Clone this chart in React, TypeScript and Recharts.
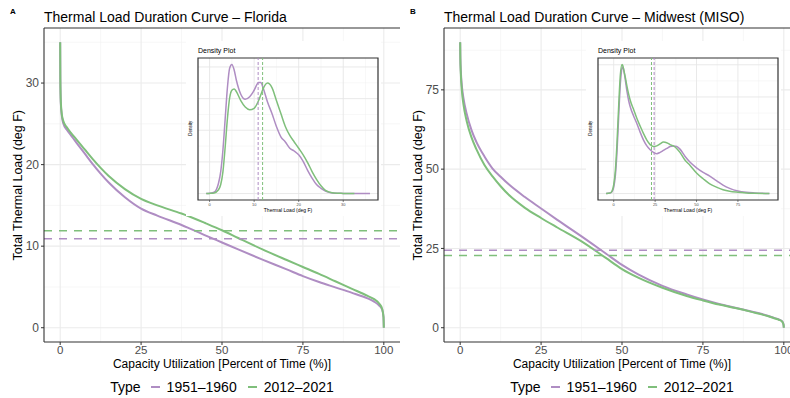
import React from 'react';
import {
  LineChart,
  Line,
  XAxis,
  YAxis,
  CartesianGrid,
  ReferenceLine,
  ReferenceArea,
} from 'recharts';

// percent of time (x of the duration curves)
const pctTime = [0, 0.05, 0.2, 0.5, 1, 2, 3.5, 5, 7.5, 10, 12.5, 15, 20, 25, 30, 37.5, 45, 50, 55, 62.5, 70, 75, 80, 85, 90, 95, 97, 98.5, 99.5, 99.9, 100];

// Florida thermal load (deg F)
const flOld = [35, 30.5, 27.5, 26.0, 25.0, 24.3, 23.5, 22.7, 21.4, 20.1, 18.9, 17.8, 16.0, 14.6, 13.75, 12.6, 11.3, 10.45, 9.6, 8.35, 7.15, 6.33, 5.6, 4.95, 4.3, 3.6, 3.2, 2.75, 2.2, 1.3, 0];
const flNew = [35, 30.5, 27.7, 26.2, 25.3, 24.6, 23.8, 23.1, 21.9, 20.7, 19.6, 18.6, 17.0, 15.8, 15.0, 14.0, 12.8, 11.95, 11.0, 9.6, 8.3, 7.45, 6.6, 5.7, 4.8, 3.9, 3.5, 3.0, 2.3, 1.3, 0];

// Midwest (MISO) thermal load (deg F)
const mwOld = [90, 85.5, 81, 76.5, 72.5, 67.5, 62.3, 58.6, 54.0, 50.2, 47.6, 45.2, 41.2, 37.6, 34.0, 28.8, 23.4, 19.8, 16.8, 13.2, 10.5, 8.9, 7.5, 6.3, 5.1, 3.8, 3.1, 2.6, 2.0, 1.0, 0];
const mwNew = [90, 85, 80, 75, 70.5, 65.2, 60.0, 56.3, 51.3, 47.7, 44.6, 41.9, 37.8, 34.6, 31.6, 27.2, 22.0, 18.5, 15.8, 12.6, 10.0, 8.6, 7.3, 6.2, 5.0, 3.7, 3.0, 2.5, 1.9, 1.0, 0];

// mean thermal load per period [1951-1960, 2012-2021]
const flMeans = [10.9, 11.9];
const mwMeans = [24.4, 22.8];

// density insets
const flDensX = [-0.75, 0, 1, 2, 2.5, 3, 3.5, 4, 4.5, 5, 5.5, 6, 7, 8, 9, 10, 11, 11.5, 12, 13, 14, 15, 16, 17, 18, 19, 20, 21, 22, 23, 24, 25, 26, 27, 28, 30, 32.5, 36];
const flDensOld = [0, 0.0002, 0.0008, 0.0065, 0.0139, 0.0277, 0.0473, 0.0669, 0.0792, 0.0816, 0.0783, 0.0718, 0.0628, 0.0596, 0.0612, 0.0653, 0.0702, 0.0702, 0.0669, 0.0579, 0.0506, 0.0424, 0.0359, 0.0326, 0.0286, 0.0269, 0.0245, 0.0204, 0.0147, 0.0098, 0.0057, 0.0033, 0.0016, 0.0007, 0.0002, 0.0001, 0, 0];
const flDensNew = [0, 0.0001, 0.0004, 0.0024, 0.0057, 0.0139, 0.0294, 0.0473, 0.0604, 0.0653, 0.0661, 0.0645, 0.0588, 0.0547, 0.053, 0.0539, 0.0588, 0.0625, 0.0661, 0.0698, 0.0669, 0.0588, 0.0506, 0.0424, 0.0367, 0.0326, 0.0286, 0.0245, 0.0196, 0.0139, 0.009, 0.0049, 0.002, 0.0008, 0.0003, 0.0001, 0, null];

const mwDensX = [-4.6, -2, -1, 0, 1, 2, 3, 4, 5, 5.5, 6, 7, 8, 9, 10, 12, 14, 16, 18, 20, 22, 24, 26, 28, 30, 32, 34, 36, 38, 40, 43, 46, 50, 54, 58, 62, 66, 70, 75, 80, 85, 94];
const mwDensOld = [0, 0.0002, 0.0006, 0.002, 0.0056, 0.0132, 0.0241, 0.0341, 0.0389, 0.0393, 0.0385, 0.0353, 0.0317, 0.0289, 0.0269, 0.0241, 0.0217, 0.019, 0.0166, 0.0148, 0.0136, 0.0128, 0.0124, 0.0128, 0.0134, 0.014, 0.0146, 0.0148, 0.0146, 0.0138, 0.0116, 0.0098, 0.008, 0.0066, 0.0054, 0.004, 0.0026, 0.0016, 0.0008, 0.0004, 0.0002, 0];
const mwDensNew = [0, 0.0002, 0.0008, 0.0028, 0.0072, 0.016, 0.0273, 0.0369, 0.0401, 0.0397, 0.0385, 0.0361, 0.0333, 0.0309, 0.0289, 0.0261, 0.0233, 0.0209, 0.0186, 0.0166, 0.0152, 0.0146, 0.0148, 0.0154, 0.016, 0.0158, 0.0152, 0.0148, 0.014, 0.0128, 0.0104, 0.0088, 0.0064, 0.0046, 0.003, 0.002, 0.0012, 0.0007, 0.0004, 0.0002, 0.0001, 0];

// ticks and grid breaks
const pctTicks = [0, 25, 50, 75, 100];
const pctMinor = [12.5, 37.5, 62.5, 87.5];
const flTicks = [0, 10, 20, 30];
const flMinor = [5, 15, 25, 35];
const mwTicks = [0, 25, 50, 75];
const mwMinor = [12.5, 37.5, 62.5, 87.5];
const flDensTicks = [0, 10, 20, 30];
const flDensMinor = [5, 15, 25, 35];
const flDensYMajor = [0, 0.02, 0.04, 0.06, 0.08];
const flDensYMinor = [0.01, 0.03, 0.05, 0.07];
const mwDensTicks = [0, 25, 50, 75];
const mwDensMinor = [12.5, 37.5, 62.5, 87.5];
const mwDensYMajor = [0, 0.01, 0.02, 0.03, 0.04];
const mwDensYMinor = [0.005, 0.015, 0.025, 0.035];

const periods = ['1951–1960', '2012–2021'];

const PURPLE = '#AF8DC3';
const GREEN = '#7FBF7B';
const FONT = '"Liberation Sans", Arial, Helvetica, sans-serif';
const AXIS = '#333333';
const TICK_TEXT = '#4d4d4d';

function DensityInset({ xs, old, recent, xDomain, xTicks, xMinor, yMajor, yMinor, yMax, means }: any) {
  const rows = xs.map((x: number, i: number) => ({ x, old: old[i], recent: recent[i] }));
  const yDomain = [-yMax * 0.05, yMax * 1.05];
  return (
    <div style={{ position: 'absolute', left: 186, top: 41, width: 195, height: 175, background: '#fff' }}>
      <LineChart width={195} height={175} data={rows} margin={{ top: 17, right: 3, left: 12, bottom: 0 }}>
        <CartesianGrid stroke="#f1f1f1" strokeWidth={0.5} horizontalValues={yMinor} verticalValues={xMinor} />
        <CartesianGrid stroke="#e6e6e6" strokeWidth={0.9} horizontalValues={yMajor} verticalValues={xTicks} />
        <XAxis
          type="number"
          dataKey="x"
          domain={xDomain}
          ticks={xTicks}
          allowDataOverflow
          height={16}
          axisLine={false}
          tickSize={2}
          tickMargin={1}
          tickLine={{ stroke: AXIS, strokeWidth: 0.6 }}
          tick={{ fill: TICK_TEXT, fontSize: 4, fontFamily: FONT }}
        />
        <YAxis hide type="number" domain={yDomain} allowDataOverflow />
        <Line type="monotone" dataKey="old" stroke={PURPLE} strokeWidth={1.5} dot={false} isAnimationActive={false} />
        <Line type="monotone" dataKey="recent" stroke={GREEN} strokeWidth={1.5} dot={false} isAnimationActive={false} />
        <ReferenceLine x={means[0]} stroke={PURPLE} strokeWidth={1} strokeDasharray="3 2" />
        <ReferenceLine x={means[1]} stroke={GREEN} strokeWidth={1} strokeDasharray="3 2" />
        <ReferenceArea x1={xDomain[0]} x2={xDomain[1]} y1={yDomain[0]} y2={yDomain[1]} fill="none" stroke={AXIS} strokeWidth={1.2} ifOverflow="visible" />
      </LineChart>
      <div style={{ position: 'absolute', left: 12, top: 6, fontSize: 7, lineHeight: 1, color: '#000', whiteSpace: 'nowrap' }}>Density Plot</div>
      <div style={{ position: 'absolute', left: 5 - 30, top: 88 - 3, width: 60, fontSize: 4.5, lineHeight: 1, textAlign: 'center', transform: 'rotate(-90deg)', color: '#000' }}>Density</div>
      <div style={{ position: 'absolute', left: 102 - 50, top: 167, width: 100, fontSize: 5, lineHeight: 1, textAlign: 'center', color: '#000' }}>Thermal Load (deg F)</div>
    </div>
  );
}

function DurationPanel({ left, tag, title, old, recent, yMax, yTicks, yMinor, means, children }: any) {
  const rows = pctTime.map((p, i) => ({ pct: p, old: old[i], recent: recent[i] }));
  const yDomain = [-yMax * 0.05, yMax * 1.05];
  return (
    <div style={{ position: 'absolute', left, top: 0, width: 400, height: 398 }}>
      <LineChart width={400} height={398} data={rows} margin={{ top: 28, right: 0, left: 0, bottom: 36 }}>
        <CartesianGrid stroke="#f2f2f2" strokeWidth={0.6} horizontalValues={yMinor} verticalValues={pctMinor} />
        <CartesianGrid stroke="#ebebeb" strokeWidth={1.1} horizontalValues={yTicks} verticalValues={pctTicks} />
        <XAxis
          type="number"
          dataKey="pct"
          domain={[-5, 105]}
          ticks={pctTicks}
          allowDataOverflow
          height={20}
          axisLine={{ stroke: AXIS, strokeWidth: 1.1 }}
          tickLine={{ stroke: AXIS }}
          tickSize={3}
          tickMargin={1}
          tick={{ fill: TICK_TEXT, fontSize: 11.5, fontFamily: FONT }}
        />
        <YAxis
          type="number"
          domain={yDomain}
          ticks={yTicks}
          allowDataOverflow
          width={44}
          axisLine={{ stroke: AXIS, strokeWidth: 1.1 }}
          tickLine={{ stroke: AXIS }}
          tickSize={3}
          tickMargin={2}
          tick={{ fill: TICK_TEXT, fontSize: 12, fontFamily: FONT }}
        />
        <ReferenceLine y={yDomain[1]} stroke={AXIS} strokeWidth={1.1} />
        <Line type="monotone" dataKey="old" stroke={PURPLE} strokeWidth={2} dot={false} isAnimationActive={false} />
        <Line type="monotone" dataKey="recent" stroke={GREEN} strokeWidth={2} dot={false} isAnimationActive={false} />
        <ReferenceLine y={means[0]} stroke={PURPLE} strokeWidth={1.5} strokeDasharray="8 7" />
        <ReferenceLine y={means[1]} stroke={GREEN} strokeWidth={1.5} strokeDasharray="8 7" />
      </LineChart>
      {children}
      <div style={{ position: 'absolute', left: 10, top: 8, fontSize: 8, fontWeight: 'bold', lineHeight: 1 }}>{tag}</div>
      <div style={{ position: 'absolute', left: 44, top: 9.5, fontSize: 14, lineHeight: 1, whiteSpace: 'nowrap', color: '#000' }}>{title}</div>
      <div style={{ position: 'absolute', left: 18 - 160, top: 185 - 6.5, width: 320, fontSize: 12.5, lineHeight: 1, textAlign: 'center', transform: 'rotate(-90deg)', color: '#000' }}>Total Thermal Load (deg F)</div>
      <div style={{ position: 'absolute', left: 44, top: 358, width: 356, fontSize: 12, lineHeight: 1, textAlign: 'center', color: '#000' }}>Capacity Utilization [Percent of Time (%)]</div>
      <div style={{ position: 'absolute', left: 44, top: 380, width: 356, display: 'flex', justifyContent: 'center', alignItems: 'center', fontSize: 14, lineHeight: 1, color: '#000' }}>
        <span style={{ marginRight: 10 }}>Type</span>
        <span style={{ width: 9, height: 2, background: PURPLE, marginRight: 7 }} />
        <span style={{ marginRight: 11 }}>{periods[0]}</span>
        <span style={{ width: 9, height: 2, background: GREEN, marginRight: 7 }} />
        <span>{periods[1]}</span>
      </div>
    </div>
  );
}

export default function App() {
  return (
    <div style={{ position: 'absolute', left: 0, top: 0, width: 790, height: 398, overflow: 'hidden', background: '#fff', fontFamily: FONT }}>
      <DurationPanel left={0} tag="A" title="Thermal Load Duration Curve – Florida" old={flOld} recent={flNew} yMax={35} yTicks={flTicks} yMinor={flMinor} means={flMeans}>
        <DensityInset xs={flDensX} old={flDensOld} recent={flDensNew} xDomain={[-2.6, 37.8]} xTicks={flDensTicks} xMinor={flDensMinor} yMajor={flDensYMajor} yMinor={flDensYMinor} yMax={0.0816} means={flMeans} />
      </DurationPanel>
      <DurationPanel left={400} tag="B" title="Thermal Load Duration Curve – Midwest (MISO)" old={mwOld} recent={mwNew} yMax={90} yTicks={mwTicks} yMinor={mwMinor} means={mwMeans}>
        <DensityInset xs={mwDensX} old={mwDensOld} recent={mwDensNew} xDomain={[-9.5, 99.2]} xTicks={mwDensTicks} xMinor={mwDensMinor} yMajor={mwDensYMajor} yMinor={mwDensYMinor} yMax={0.0401} means={mwMeans} />
      </DurationPanel>
    </div>
  );
}
